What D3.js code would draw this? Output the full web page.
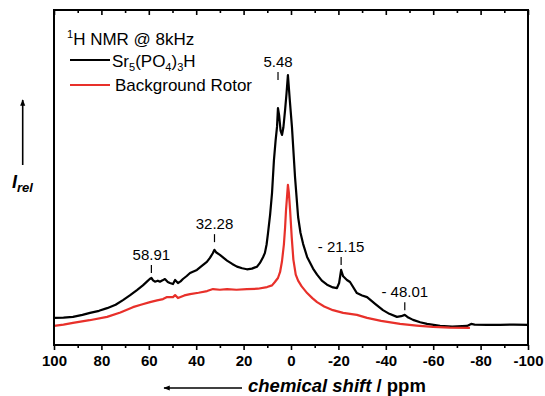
<!DOCTYPE html>
<html>
<head>
<meta charset="utf-8">
<script src="https://cdn.jsdelivr.net/npm/d3@7"></script>
<style>
  body { margin: 0; background: #fff; }
  svg { display: block; font-family: "Liberation Sans", Arial, sans-serif; }
</style>
</head>
<body>
<figure id="nmr" style="margin:0"></figure>
<script>
// spectrum of the sample (ppm, relative intensity)
const samplePpm = [100, 96, 92, 88, 84.8, 81, 77.6, 74, 70.9, 68, 65, 62.5, 60.8, 59.6, 58.9, 58.2, 57.4, 56.2, 55.3, 54.2,
  53.2, 52, 51.1, 49.8, 48.9, 47.7, 46.6, 45.6, 44, 42.6, 39.7, 37.1, 35.5, 34.2, 33, 32.3, 31.5, 30, 27, 24.8,
  22.8, 20.6, 18.6, 16.5, 14.3, 13.1, 11.8, 11, 10.3, 9.7, 8.8, 8, 7.2, 6.5, 5.9, 5.5, 5, 4.4, 3.8, 3.2,
  2.5, 1.9, 1.3, 0.5, -0.4, -1.7, -3, -4, -5.1, -6.8, -9.3, -11, -13, -15.2, -17.7, -19.4, -20.3, -21.15, -22, -23.6,
  -24.9, -27.8, -30, -32.1, -35.5, -38.8, -41.5, -44.7, -46.5, -48, -49.5, -51.5, -54.5, -57.4, -62.9, -68, -74.3, -76, -77.5, -82.7,
  -88.2, -94, -100];
const sampleInt = [8.1, 8.2, 8.4, 9.0, 9.6, 10.2, 11.0, 12.0, 13.4, 14.8, 16.4, 17.8, 18.9, 19.7, 20.0, 19.3, 18.9, 19.2, 18.9, 19.3,
  19.7, 18.8, 18.5, 18.2, 19.4, 18.5, 19.0, 19.7, 20.6, 21.5, 22.4, 23.9, 24.8, 26.0, 27.4, 28.4, 27.6, 26.9, 25.2, 24.2,
  23.4, 22.9, 22.6, 22.8, 23.4, 24.5, 26.2, 27.5, 30.0, 33.4, 39.0, 45.4, 55.2, 61.0, 65.1, 70.7, 68.5, 64.0, 62.7, 65.0,
  70.1, 75.0, 80.6, 73.0, 65.1, 50.1, 38.2, 33.5, 30.2, 26.3, 22.8, 21.0, 19.2, 18.0, 17.2, 17.0, 18.5, 22.4, 20.5, 19.4,
  18.8, 15.5, 14.8, 14.3, 12.3, 10.4, 9.3, 8.4, 8.6, 9.0, 8.2, 7.5, 6.8, 6.3, 5.7, 5.5, 5.7, 6.3, 6.1, 6.0,
  6.0, 6.1, 6.0];

// empty rotor background
const rotorPpm = [100, 96, 92, 85, 77.6, 72, 66.7, 63, 59.5, 56.5, 54, 52.3, 49.8, 48.9, 47.7, 45, 42.6, 39, 35.4, 32.9,
  30, 27, 23, 18.6, 14, 10.1, 8, 6.8, 5.5, 4.6, 3.8, 3, 2.5, 2.1, 1.6, 1.3, 0.9, 0.4, -0.3, -1,
  -2, -3, -4.5, -6.8, -9, -11, -14, -17.7, -22, -27.8, -32.1, -38, -46, -53, -59.9, -67, -75.5];
const rotorInt = [5.7, 6.1, 6.6, 7.4, 8.4, 9.7, 11.3, 12.1, 12.8, 13.3, 13.7, 14.3, 14.3, 14.9, 14.0, 14.8, 15.2, 15.6, 16.1, 16.7,
  16.5, 16.7, 16.5, 16.7, 16.8, 17.3, 17.8, 18.8, 20.0, 21.8, 25.0, 30.0, 35.0, 40.3, 45.0, 47.8, 45.5, 40.5, 32.2, 25.5,
  21.0, 19.2, 17.5, 15.5, 14.0, 12.8, 11.5, 10.4, 9.6, 9.0, 8.1, 7.2, 6.3, 5.8, 5.4, 5.2, 5.1];

// marked peaks
const peakPpm = [58.91, 32.28, 5.48, -21.15, -48.01];
const peakText = ["58.91", "32.28", "5.48", "- 21.15", "- 48.01"];
const peakLevel = [21.5, 30.7, 79.1, 23.9, 10.4];

const xTicks = [100, 80, 60, 40, 20, 0, -20, -40, -60, -80, -100];

const width = 545, height = 396;
const mLeft = 54, mRight = 528, mTop = 10, mBottom = 345;

const svg = d3.select("figure#nmr")
  .append("svg")
  .attr("width", width)
  .attr("height", height);

const x = d3.scaleLinear().domain([100, -100]).range([mLeft, mRight]);
const y = d3.scaleLinear().domain([0, 100]).range([mBottom, mTop]);

svg.append("clipPath").attr("id", "plotclip")
  .append("rect")
  .attr("x", mLeft).attr("y", mTop)
  .attr("width", mRight - mLeft).attr("height", mBottom - mTop);

// spectra
const line = d3.line().x(d => x(d[0])).y(d => y(d[1]));
const sample = samplePpm.map((p, i) => [p, sampleInt[i]]);
const rotor = rotorPpm.map((p, i) => [p, rotorInt[i]]);

const plot = svg.append("g").attr("clip-path", "url(#plotclip)");
plot.append("path").datum(sample)
  .attr("d", line).attr("fill", "none")
  .attr("stroke", "#000").attr("stroke-width", 2.2).attr("stroke-linejoin", "round");
plot.append("path").datum(rotor)
  .attr("d", line).attr("fill", "none")
  .attr("stroke", "#e8302a").attr("stroke-width", 2.2).attr("stroke-linejoin", "round");

// bottom axis, major ticks labelled, minor in between
const minor = d3.range(90, -100, -20);
const bottomAxis = svg.append("g").attr("transform", `translate(0,${mBottom})`)
  .call(d3.axisBottom(x).tickValues(xTicks).tickSize(5).tickPadding(5).tickFormat(d => String(d)));
bottomAxis.select(".domain").remove();
bottomAxis.selectAll("line").attr("stroke-width", 1.6);
bottomAxis.selectAll("text")
  .style("font-size", "15px").style("font-weight", "bold")
  .style("font-family", "'Liberation Sans', Arial, sans-serif");
svg.append("g").attr("transform", `translate(0,${mBottom})`)
  .call(d3.axisBottom(x).tickValues(minor).tickSize(3).tickFormat(""))
  .call(g => g.select(".domain").remove())
  .selectAll("line").attr("stroke-width", 1.6);

// top axis ticks pointing inward
svg.append("g").attr("transform", `translate(0,${mTop})`)
  .call(d3.axisBottom(x).tickValues(xTicks).tickSize(5).tickFormat(""))
  .call(g => g.select(".domain").remove())
  .selectAll("line").attr("stroke-width", 1.6);
svg.append("g").attr("transform", `translate(0,${mTop})`)
  .call(d3.axisBottom(x).tickValues(minor).tickSize(3).tickFormat(""))
  .call(g => g.select(".domain").remove())
  .selectAll("line").attr("stroke-width", 1.6);

// frame
svg.append("rect")
  .attr("x", mLeft).attr("y", mTop)
  .attr("width", mRight - mLeft).attr("height", mBottom - mTop)
  .attr("fill", "none").attr("stroke", "#000").attr("stroke-width", 2);

// peak markers
const marks = svg.append("g");
peakPpm.forEach((p, i) => {
  const px = x(p), py = y(peakLevel[i]);
  marks.append("line")
    .attr("x1", px).attr("x2", px)
    .attr("y1", py).attr("y2", py - 8)
    .attr("stroke", "#000").attr("stroke-width", 1.2);
  marks.append("text")
    .attr("x", px).attr("y", py - 13)
    .attr("text-anchor", "middle")
    .style("font-size", "15px")
    .text(peakText[i]);
});

// legend
const legend = svg.append("g");
const t1 = legend.append("text").attr("x", 67).attr("y", 45).style("font-size", "17px");
t1.append("tspan").attr("dy", -7).style("font-size", "11px").text("1");
t1.append("tspan").attr("dy", 7).text("H NMR @ 8kHz");

legend.append("line").attr("x1", 70).attr("x2", 110).attr("y1", 60).attr("y2", 60)
  .attr("stroke", "#000").attr("stroke-width", 2.2);
const t2 = legend.append("text").attr("x", 112).attr("y", 67).style("font-size", "17px");
t2.append("tspan").text("Sr");
t2.append("tspan").attr("dy", 4).style("font-size", "11px").text("5");
t2.append("tspan").attr("dy", -4).text("(PO");
t2.append("tspan").attr("dy", 4).style("font-size", "11px").text("4");
t2.append("tspan").attr("dy", -4).text(")");
t2.append("tspan").attr("dy", 4).style("font-size", "11px").text("3");
t2.append("tspan").attr("dy", -4).text("H");

legend.append("line").attr("x1", 70).attr("x2", 110).attr("y1", 85).attr("y2", 85)
  .attr("stroke", "#e8302a").attr("stroke-width", 2.2);
legend.append("text").attr("x", 115).attr("y", 91).style("font-size", "17px").text("Background Rotor");

// arrows
const defs = svg.append("defs");
defs.append("marker").attr("id", "head")
  .attr("viewBox", "0 0 10 10").attr("refX", 9).attr("refY", 5)
  .attr("markerWidth", 4).attr("markerHeight", 4).attr("orient", "auto")
  .append("path").attr("d", "M0,1 L10,5 L0,9 Z").attr("fill", "#000");

svg.append("line")
  .attr("x1", 242).attr("x2", 164).attr("y1", 388).attr("y2", 388)
  .attr("stroke", "#000").attr("stroke-width", 1.6).attr("marker-end", "url(#head)");
const xt = svg.append("text").attr("x", 248).attr("y", 392)
  .style("font-size", "18.5px").style("font-weight", "bold");
xt.append("tspan").style("font-style", "italic").text("chemical shift");
xt.append("tspan").text(" / ppm");

svg.append("line")
  .attr("x1", 22.7).attr("x2", 22.7).attr("y1", 165).attr("y2", 100)
  .attr("stroke", "#000").attr("stroke-width", 1.6).attr("marker-end", "url(#head)");
const yt = svg.append("text").attr("x", 12).attr("y", 188)
  .style("font-weight", "bold").style("font-style", "italic");
yt.append("tspan").style("font-size", "18px").text("I");
yt.append("tspan").attr("dy", 4).style("font-size", "13px").text("rel");
</script>
</body>
</html>
